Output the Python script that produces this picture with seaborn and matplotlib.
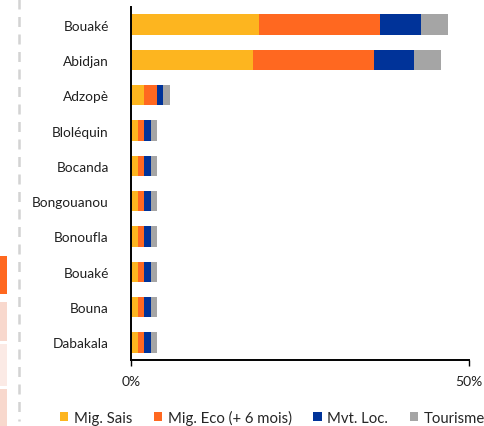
import numpy as np
import pandas as pd
import matplotlib
matplotlib.use("Agg")
import matplotlib.pyplot as plt
from matplotlib.patches import Patch, Rectangle
from matplotlib.lines import Line2D
import seaborn as sns

# Share of flows by locality (percent)
localites = ["Bouaké", "Abidjan", "Adzopè", "Bloléquin", "Bocanda",
             "Bongouanou", "Bonoufla", "Bouaké", "Bouna", "Dabakala"]
mig_sais = [19.0, 18.0, 1.9, 1.0, 1.0, 1.0, 1.0, 1.0, 1.0, 1.0]
mig_eco = [17.9, 18.0, 2.0, 0.9, 0.9, 0.9, 0.9, 0.9, 0.9, 0.9]
mvt_loc = [6.0, 5.9, 0.9, 1.0, 1.0, 1.0, 1.0, 1.0, 1.0, 1.0]
tourisme = [4.0, 4.0, 1.0, 1.0, 1.0, 1.0, 1.0, 1.0, 1.0, 1.0]

series = ["Mig. Sais", "Mig. Eco (+ 6 mois)", "Mvt. Loc.", "Tourisme"]
colors = ["#FDB51F", "#FF6820", "#003399", "#A5A5A5"]
xticks = [0, 50]
xtick_labels = ["0%", "50%"]

sns.set_theme(style="white")
plt.rcParams["font.family"] = ["Lato", "DejaVu Sans"]

df = pd.DataFrame({"row": np.arange(len(localites)),
                   "s1": mig_sais, "s2": mig_eco, "s3": mvt_loc, "s4": tourisme})
# cumulative totals, drawn back to front to obtain stacked bars
df["c1"] = df["s1"]
df["c2"] = df["c1"] + df["s2"]
df["c3"] = df["c2"] + df["s3"]
df["c4"] = df["c3"] + df["s4"]

fig = plt.figure(figsize=(4.84, 4.27), dpi=100)
ax = fig.add_axes([131 / 484, 1 - 361 / 427, 338 / 484, 353 / 427])

for col, color in zip(["c4", "c3", "c2", "c1"], colors[::-1]):
    sns.barplot(data=df, x=col, y="row", orient="y", color=color,
                width=0.58, saturation=1, linewidth=0, ax=ax)

ax.set_xlim(0, 50)
ax.set_ylim(len(localites) - 0.5, -0.5)
ax.set_xticks(xticks)
ax.set_xticklabels(xtick_labels, fontsize=10, color="#202020")
ax.set_yticks(range(len(localites)))
ax.set_yticklabels(localites, fontsize=9.8, color="#202020")
ax.set_xlabel("")
ax.set_ylabel("")
ax.tick_params(axis="x", bottom=True, length=4, width=1, color="black", pad=7)
ax.tick_params(axis="y", left=False, pad=10)
for side in ["top", "right"]:
    ax.spines[side].set_visible(False)
for side in ["left", "bottom"]:
    ax.spines[side].set_color("black")
    ax.spines[side].set_linewidth(1.4)

handles = [Patch(facecolor=c, edgecolor="none") for c in colors]
fig.legend(handles, series, loc="lower left", bbox_to_anchor=(54 / 484, -0.012),
           ncol=4, frameon=False, fontsize=10.7, handlelength=0.56,
           handleheight=0.56, handletextpad=0.38, columnspacing=1.45,
           borderaxespad=0)

# neighbouring panel edge: dashed separator and side boxes
fig.add_artist(Line2D([19 / 484, 19 / 484], [1, 1 - 422 / 427],
                      transform=fig.transFigure, color="#D3D3D3",
                      linewidth=1.8, linestyle=(0, (4, 3))))
for y0, y1, fc in [(257, 295, "#FF6820"), (303, 342, "#F8D8CD"),
                   (345, 387, "#FBEAE5"), (390, 427, "#F8D8CD")]:
    fig.add_artist(Rectangle((0, 1 - y1 / 427), 7 / 484, (y1 - y0) / 427,
                             transform=fig.transFigure, facecolor=fc,
                             edgecolor="none"))

fig.savefig("out.png", dpi=100)
